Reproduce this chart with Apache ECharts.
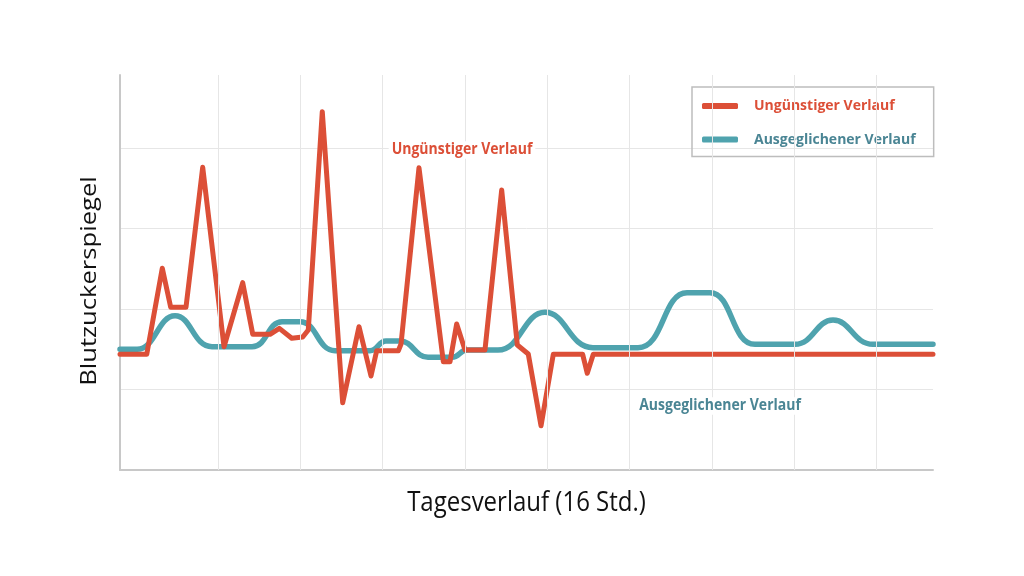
<!DOCTYPE html>
<html>
<head>
<meta charset="utf-8">
<script src="https://cdn.jsdelivr.net/npm/echarts@6/dist/echarts.min.js"></script>
<style>html,body{margin:0;padding:0;background:#fff;}#c{width:1024px;height:576px;}</style>
</head>
<body>
<div id="c"></div>
<script>
// Data (x in grid units, y in level units)
const seriesNames = ['Ungünstiger Verlauf', 'Ausgeglichener Verlauf'];
const redX = [-1.191,-0.866,-0.677,-0.575,-0.389,-0.186,0.073,0.300,0.422,0.632,0.745,0.896,1.029,1.097,1.267,1.515,1.713,1.859,1.928,2.191,2.224,2.442,2.738,2.819,2.900,3.001,3.244,3.447,3.637,3.770,3.925,4.074,4.431,4.487,4.560,8.688];
const redY = [1.437,1.437,2.506,2.021,2.021,3.760,1.532,2.327,1.686,1.686,1.760,1.636,1.652,1.739,4.451,0.836,1.780,1.168,1.482,1.482,1.565,3.755,1.345,1.345,1.814,1.491,1.491,3.478,1.553,1.441,0.550,1.437,1.437,1.201,1.437,1.437];
const blueX = [-1.191,-0.984,-0.522,-0.073,0.413,0.778,0.996,1.422,1.847,2.041,2.211,2.552,2.843,3.026,3.402,3.973,4.556,5.103,5.699,5.978,6.525,7.011,7.473,7.959,8.688];
const blueY = [1.499,1.499,1.917,1.532,1.532,1.842,1.842,1.482,1.482,1.602,1.602,1.400,1.400,1.491,1.491,1.959,1.519,1.519,2.202,2.202,1.561,1.561,1.863,1.561,1.561];
const xGridLines = [0,1,2,3,4,5,6,7,8];
const xName = 'Tagesverlauf (16 Std.)';
const yName = 'Blutzuckerspiegel';

const RED = '#dc4f37', BLUE = '#4fa3ae', BLUE_TXT = '#4a8594';
const chart = echarts.init(document.getElementById('c'));
const zip = (xs, ys) => xs.map((x, i) => [x, ys[i]]);
chart.setOption({
  animation: false,
  backgroundColor: '#fff',
  textStyle: {fontFamily: 'Open Sans'},
  grid: {left: 120, right: 91, top: 75, bottom: 106},
  xAxis: {
    type: 'value', min: -1.191, max: 8.688,
    axisLine: {show: true, onZero: false, lineStyle: {color: '#c8c8c8', width: 2}},
    axisTick: {show: false}, axisLabel: {show: false}, splitLine: {show: false}
  },
  yAxis: {
    type: 'value', min: 0, max: 4.907, interval: 1,
    axisLine: {show: true, onZero: false, lineStyle: {color: '#c8c8c8', width: 2}},
    axisTick: {show: false}, axisLabel: {show: false},
    splitLine: {show: true, showMaxLine: false, lineStyle: {color: '#e6e6e6', width: 1}}
  },
  legend: {
    orient: 'vertical', left: 692, top: 87,
    padding: [11, 18, 9, 10], itemGap: 17.6,
    borderColor: '#bdbdbd', borderWidth: 1.5,
    itemWidth: 36, itemHeight: 6, icon: 'roundRect',
    textStyle: {fontSize: 14, fontWeight: 'bold', lineHeight: 16, padding: [0, 0, 0, 11], fontFamily: 'Open Sans'},
    data: [
      {name: seriesNames[0], textStyle: {color: RED}},
      {name: seriesNames[1], textStyle: {color: BLUE_TXT}}
    ]
  },
  graphic: [
    {type: 'text', x: 90, y: 281, rotation: Math.PI / 2, scaleX: 1.22, z: 10,
     style: {text: yName, fontSize: 21, fill: '#111', fontFamily: 'Open Sans', align: 'center', verticalAlign: 'middle'}},
    {type: 'text', x: 526.5, y: 503, scaleY: 1.17, z: 10,
     style: {text: xName, fontSize: 24, fill: '#111', fontFamily: 'Open Sans', align: 'center', verticalAlign: 'middle'}},
    {type: 'text', x: 462, y: 150, scaleY: 1.1, z: 10,
     style: {text: seriesNames[0], fontSize: 14, fontWeight: 'bold', fill: RED, fontFamily: 'Open Sans', align: 'center', verticalAlign: 'middle', backgroundColor: '#fff', padding: [1, 3]}},
    {type: 'text', x: 720, y: 406, scaleY: 1.1, z: 10,
     style: {text: seriesNames[1], fontSize: 14, fontWeight: 'bold', fill: BLUE_TXT, fontFamily: 'Open Sans', align: 'center', verticalAlign: 'middle', backgroundColor: '#fff', padding: [1, 3]}}
  ],
  series: [
    {
      name: 'grid', type: 'line', data: [], z: 0, silent: true, legendHoverLink: false,
      markLine: {silent: true, symbol: 'none', label: {show: false},
        lineStyle: {color: '#e6e6e6', width: 1, type: 'solid'},
        data: xGridLines.map(v => ({xAxis: v}))}
    },
    {
      name: seriesNames[1], type: 'line', data: zip(blueX, blueY), smooth: 0.45,
      showSymbol: false, z: 3, color: BLUE,
      lineStyle: {color: BLUE, width: 5.5, cap: 'round', join: 'round'}
    },
    {
      name: seriesNames[0], type: 'line', data: zip(redX, redY), smooth: false,
      showSymbol: false, z: 4, color: RED,
      lineStyle: {color: RED, width: 5, cap: 'round', join: 'round'}
    }
  ]
});
</script>
</body>
</html>
